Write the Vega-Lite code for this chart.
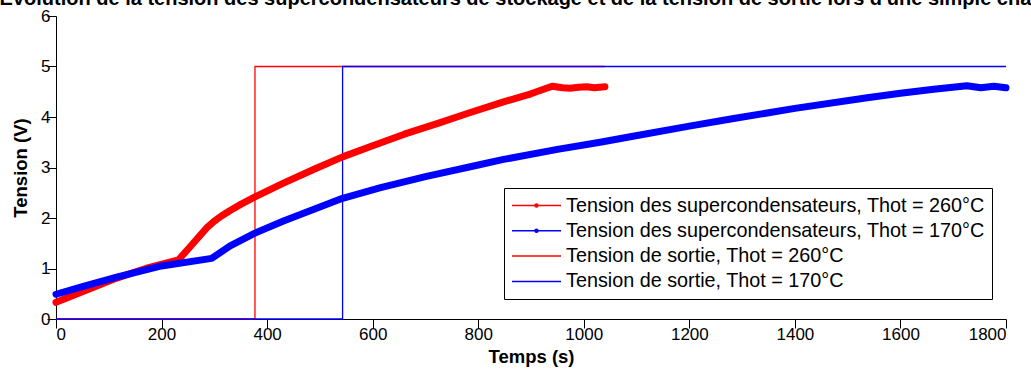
{
  "$schema": "https://vega.github.io/schema/vega-lite/v6.json",
  "autosize": {"type": "none"},
  "padding": {"left": 56, "top": 16, "right": 25, "bottom": 53},
  "width": 950,
  "height": 303,
  "background": "white",
  "title": {
    "text": "Evolution de la tension des supercondensateurs de stockage et de la tension de sortie lors d'une simple charge",
    "frame": "group",
    "anchor": "middle",
    "baseline": "alphabetic",
    "offset": 2,
    "dy": 20,
    "font": "Liberation Sans",
    "fontSize": 20,
    "fontWeight": "bold",
    "color": "black"
  },
  "config": {
    "view": {"stroke": null},
    "font": "Liberation Sans",
    "axis": {
      "grid": false,
      "domainColor": "black",
      "domainWidth": 1,
      "tickColor": "black",
      "tickWidth": 1,
      "tickSize": 9,
      "labelColor": "black",
      "labelFont": "Liberation Sans",
      "labelFontSize": 17,
      "titleFont": "Liberation Sans",
      "titleFontSize": 18.5,
      "titleFontWeight": "bold",
      "titleColor": "black"
    }
  },
  "datasets": {
    "cap": [
      {"serie": "Tension des supercondensateurs, Thot = 260°C", "t": 0, "v": 0.33},
      {"serie": "Tension des supercondensateurs, Thot = 260°C", "t": 50, "v": 0.54},
      {"serie": "Tension des supercondensateurs, Thot = 260°C", "t": 115, "v": 0.81},
      {"serie": "Tension des supercondensateurs, Thot = 260°C", "t": 170, "v": 1.0},
      {"serie": "Tension des supercondensateurs, Thot = 260°C", "t": 232, "v": 1.17},
      {"serie": "Tension des supercondensateurs, Thot = 260°C", "t": 260, "v": 1.5},
      {"serie": "Tension des supercondensateurs, Thot = 260°C", "t": 286, "v": 1.81},
      {"serie": "Tension des supercondensateurs, Thot = 260°C", "t": 300, "v": 1.94},
      {"serie": "Tension des supercondensateurs, Thot = 260°C", "t": 315, "v": 2.05},
      {"serie": "Tension des supercondensateurs, Thot = 260°C", "t": 330, "v": 2.15},
      {"serie": "Tension des supercondensateurs, Thot = 260°C", "t": 350, "v": 2.27},
      {"serie": "Tension des supercondensateurs, Thot = 260°C", "t": 377, "v": 2.42},
      {"serie": "Tension des supercondensateurs, Thot = 260°C", "t": 431, "v": 2.69},
      {"serie": "Tension des supercondensateurs, Thot = 260°C", "t": 490, "v": 2.97},
      {"serie": "Tension des supercondensateurs, Thot = 260°C", "t": 543, "v": 3.21},
      {"serie": "Tension des supercondensateurs, Thot = 260°C", "t": 600, "v": 3.43},
      {"serie": "Tension des supercondensateurs, Thot = 260°C", "t": 660, "v": 3.66},
      {"serie": "Tension des supercondensateurs, Thot = 260°C", "t": 722, "v": 3.87},
      {"serie": "Tension des supercondensateurs, Thot = 260°C", "t": 785, "v": 4.09},
      {"serie": "Tension des supercondensateurs, Thot = 260°C", "t": 848, "v": 4.3},
      {"serie": "Tension des supercondensateurs, Thot = 260°C", "t": 900, "v": 4.46},
      {"serie": "Tension des supercondensateurs, Thot = 260°C", "t": 940, "v": 4.61},
      {"serie": "Tension des supercondensateurs, Thot = 260°C", "t": 960, "v": 4.58},
      {"serie": "Tension des supercondensateurs, Thot = 260°C", "t": 974, "v": 4.57},
      {"serie": "Tension des supercondensateurs, Thot = 260°C", "t": 990, "v": 4.59},
      {"serie": "Tension des supercondensateurs, Thot = 260°C", "t": 1006, "v": 4.6},
      {"serie": "Tension des supercondensateurs, Thot = 260°C", "t": 1020, "v": 4.58},
      {"serie": "Tension des supercondensateurs, Thot = 260°C", "t": 1040, "v": 4.6},
      {"serie": "Tension des supercondensateurs, Thot = 170°C", "t": 0, "v": 0.49},
      {"serie": "Tension des supercondensateurs, Thot = 170°C", "t": 50, "v": 0.64},
      {"serie": "Tension des supercondensateurs, Thot = 170°C", "t": 115, "v": 0.83},
      {"serie": "Tension des supercondensateurs, Thot = 170°C", "t": 200, "v": 1.05},
      {"serie": "Tension des supercondensateurs, Thot = 170°C", "t": 295, "v": 1.2},
      {"serie": "Tension des supercondensateurs, Thot = 170°C", "t": 330, "v": 1.45},
      {"serie": "Tension des supercondensateurs, Thot = 170°C", "t": 377, "v": 1.7},
      {"serie": "Tension des supercondensateurs, Thot = 170°C", "t": 431, "v": 1.94},
      {"serie": "Tension des supercondensateurs, Thot = 170°C", "t": 490, "v": 2.18},
      {"serie": "Tension des supercondensateurs, Thot = 170°C", "t": 543, "v": 2.39},
      {"serie": "Tension des supercondensateurs, Thot = 170°C", "t": 615, "v": 2.6},
      {"serie": "Tension des supercondensateurs, Thot = 170°C", "t": 700, "v": 2.82},
      {"serie": "Tension des supercondensateurs, Thot = 170°C", "t": 800, "v": 3.05},
      {"serie": "Tension des supercondensateurs, Thot = 170°C", "t": 848, "v": 3.16},
      {"serie": "Tension des supercondensateurs, Thot = 170°C", "t": 950, "v": 3.36},
      {"serie": "Tension des supercondensateurs, Thot = 170°C", "t": 1031, "v": 3.5},
      {"serie": "Tension des supercondensateurs, Thot = 170°C", "t": 1088, "v": 3.61},
      {"serie": "Tension des supercondensateurs, Thot = 170°C", "t": 1200, "v": 3.82},
      {"serie": "Tension des supercondensateurs, Thot = 170°C", "t": 1284, "v": 3.97},
      {"serie": "Tension des supercondensateurs, Thot = 170°C", "t": 1400, "v": 4.17},
      {"serie": "Tension des supercondensateurs, Thot = 170°C", "t": 1537, "v": 4.38},
      {"serie": "Tension des supercondensateurs, Thot = 170°C", "t": 1600, "v": 4.47},
      {"serie": "Tension des supercondensateurs, Thot = 170°C", "t": 1663, "v": 4.55},
      {"serie": "Tension des supercondensateurs, Thot = 170°C", "t": 1726, "v": 4.62},
      {"serie": "Tension des supercondensateurs, Thot = 170°C", "t": 1752, "v": 4.58},
      {"serie": "Tension des supercondensateurs, Thot = 170°C", "t": 1777, "v": 4.61},
      {"serie": "Tension des supercondensateurs, Thot = 170°C", "t": 1800, "v": 4.58}
    ],
    "out": [
      {"serie": "Tension de sortie, Thot = 260°C", "t": 0, "v": 0},
      {"serie": "Tension de sortie, Thot = 260°C", "t": 377, "v": 5},
      {"serie": "Tension de sortie, Thot = 260°C", "t": 1040, "v": 5},
      {"serie": "Tension de sortie, Thot = 170°C", "t": 0, "v": 0},
      {"serie": "Tension de sortie, Thot = 170°C", "t": 543, "v": 5},
      {"serie": "Tension de sortie, Thot = 170°C", "t": 1800, "v": 5}
    ]
  },
  "encoding": {
    "x": {
      "field": "t", "type": "quantitative",
      "scale": {"domain": [0, 1800], "nice": false, "zero": false},
      "axis": {
        "title": "Temps (s)", "format": "d",
        "values": [0, 200, 400, 600, 800, 1000, 1200, 1400, 1600, 1800],
        "labelPadding": -2, "titlePadding": 5,
        "encode": {"ticks": {"update": {"y2": {"value": -9}}}}
      }
    },
    "y": {
      "field": "v", "type": "quantitative",
      "scale": {"domain": [0, 6], "nice": false},
      "axis": {
        "title": "Tension (V)", "format": "d",
        "values": [0, 1, 2, 3, 4, 5, 6],
        "labelPadding": -3, "titlePadding": 10,
        "encode": {"ticks": {"update": {"x2": {"value": 9}}}}
      }
    },
    "color": {
      "field": "serie", "type": "nominal",
      "scale": {
        "domain": ["Tension des supercondensateurs, Thot = 260°C", "Tension des supercondensateurs, Thot = 170°C", "Tension de sortie, Thot = 260°C", "Tension de sortie, Thot = 170°C"],
        "range": ["#ff0000", "#0000ff", "#ff0000", "#0000ff"]
      },
      "legend": {
        "title": null,
        "orient": "none",
        "legendX": 448,
        "legendY": 172,
        "direction": "vertical",
        "strokeColor": "black",
        "fillColor": "white",
        "padding": 7,
        "labelFont": "Liberation Sans",
        "labelFontSize": 19.8,
        "labelColor": "black",
        "labelLimit": 0,
        "labelOffset": 34,
        "rowPadding": 4.3,
        "symbolSize": 361,
        "symbolStrokeWidth": 1.5,
        "symbolType": "M-1,0H4.158",
        "encode": {
          "symbols": {
            "update": {
              "shape": {"signal": "indexof(datum.value, 'supercondensateurs') >= 0 ? 'M-1,0H4.158M1.42,0a0.158,0.158 0 1,0 0.316,0a0.158,0.158 0 1,0 -0.316,0' : 'M-1,0H4.158'"},
              "strokeWidth": {"value": 1.5},
              "opacity": {"value": 1}
            }
          }
        }
      }
    }
  },
  "layer": [
    {
      "data": {"name": "out"},
      "mark": {"type": "line", "interpolate": "step-after", "strokeWidth": 1.3}
    },
    {
      "data": {"name": "cap"},
      "mark": {"type": "line", "strokeWidth": 7, "strokeCap": "round", "strokeJoin": "round"}
    }
  ]
}
